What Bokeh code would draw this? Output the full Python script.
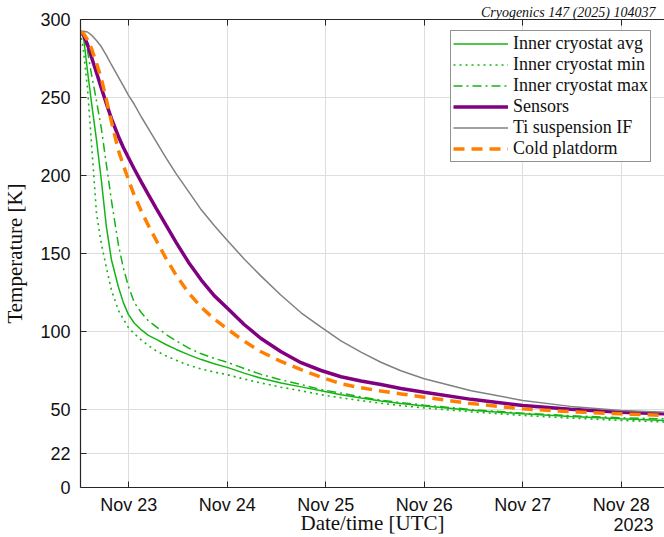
from bokeh.plotting import figure
from bokeh.models import Legend, LegendItem, LinearAxis, FixedTicker, Range1d, Grid
from bokeh.embed import file_html
from bokeh.resources import INLINE

# time as day of November 2023 (UTC)
day = [22.511, 22.541, 22.582, 22.622, 22.673, 22.723, 22.774, 22.825, 22.896, 22.946,
       22.997, 23.058, 23.129, 23.200, 23.281, 23.382, 23.483, 23.605, 23.737, 23.868,
       24.0, 24.172, 24.344, 24.547, 24.750, 24.953, 25.155, 25.358, 25.560, 25.763,
       26.0, 26.477, 27.0, 27.486, 28.0, 28.436]

inner_avg = [292, 289, 267, 247, 223, 196.8, 167, 146, 128.5, 118.5,
             111, 105.3, 101, 97.5, 95, 91.5, 88.5, 85.2, 82, 79.3,
             77, 73.3, 70, 67, 64.5, 62, 59.5, 57.4, 55.5, 53.8,
             52.2, 49.5, 47.2, 45.5, 44, 43]
inner_min = [292, 280, 256, 221, 176, 156, 141, 126.5, 113.5, 108,
             102.5, 98.5, 94.5, 91, 87.5, 84.3, 81.5, 78.5, 76, 74,
             72.3, 69.5, 67, 64.3, 62, 59.5, 57.5, 55.7, 54, 52.5,
             51, 48.5, 46.2, 44.5, 43, 42]
inner_max = [292, 290, 280, 265, 248, 230, 207, 184, 155.5, 140.8,
             129, 118.5, 112, 106.8, 103, 98, 94, 89.5, 85.7, 82.8,
             80.3, 76.3, 72.5, 69, 66, 62.8, 60.5, 58.1, 56, 54.5,
             52.8, 50, 47.6, 46, 44.7, 44]
sensors = [292, 290, 284, 276, 266, 256, 246, 236.5, 225, 218,
           211.5, 204, 195.8, 187.8, 178.8, 167.8, 157, 144.6, 133, 123,
           115, 104.5, 95.5, 87, 80, 75, 71, 68.3, 66, 63.5,
           61.1, 56.5, 52.6, 50.2, 48.3, 47.2]
ti_susp = [292.5, 292.5, 292, 290, 286.5, 282.5, 277, 271, 263, 257.5,
           251.5, 245.5, 237.5, 230, 221.5, 211, 201, 190, 178, 168,
           158.5, 146.5, 135.5, 123.2, 112, 102.8, 94, 86.8, 80.3, 74.8,
           69.7, 62, 55.8, 52, 49.4, 48.3]
cold_plat = [292, 291, 287, 281.5, 272, 262, 248.5, 234.5, 216, 206.5,
             197.5, 187, 177, 168, 158.3, 146.5, 136, 125, 115.6, 108,
             101.7, 93.8, 87, 80.8, 75.5, 70.7, 66.5, 63.9, 61.8, 60,
             57.9, 53.8, 50.4, 48.6, 47.2, 46.2]

tick_days = [23, 24, 25, 26, 27, 28]
tick_labels = ["Nov 23", "Nov 24", "Nov 25", "Nov 26", "Nov 27", "Nov 28"]
y_ticks = [0, 22, 50, 100, 150, 200, 250, 300]
year_pos = [28.125]
year_label = ["2023"]

series_names = ["Inner cryostat avg", "Inner cryostat min", "Inner cryostat max",
                "Sensors", "Ti suspension IF", "Cold platdorm"]
x_title = "Date/time [UTC]"
y_title = "Temperature [K]"
header = "Cryogenics 147 (2025) 104037"

AX = "#262626"
TXT = "#111111"
GREEN = "#14b414"

p = figure(width=664, height=537, output_backend="svg", toolbar_location=None,
           x_range=Range1d(22.511, 28.439), y_range=Range1d(0, 300),
           x_axis_type=None, y_axis_type=None,
           min_border_left=79, min_border_right=0, min_border_top=19, min_border_bottom=50)
p.outline_line_color = None
p.background_fill_color = "white"
p.border_fill_color = "white"

p.title.text = header
p.title.align = "right"
p.title.offset = 9
p.title.standoff = 0
p.title.text_font = "Liberation Serif"
p.title.text_font_style = "italic"
p.title.text_font_size = "14px"
p.title.text_color = TXT

xb = LinearAxis(ticker=FixedTicker(ticks=tick_days), axis_label=x_title)
xb.major_label_overrides = {d: l for d, l in zip(tick_days, tick_labels)}
yl = LinearAxis(ticker=FixedTicker(ticks=y_ticks), axis_label=y_title)
xt = LinearAxis(ticker=FixedTicker(ticks=tick_days))
for ax in (xb, yl, xt):
    ax.axis_line_color = AX
    ax.axis_line_width = 1.2
    ax.major_tick_line_color = AX
    ax.major_tick_in = 6
    ax.major_tick_out = 0
    ax.minor_tick_line_color = None
    ax.major_label_text_font = "Liberation Sans"
    ax.major_label_text_font_size = "18px"
    ax.major_label_text_color = TXT
    ax.axis_label_text_font = "Liberation Serif"
    ax.axis_label_text_font_size = "21px"
    ax.axis_label_text_font_style = "normal"
    ax.axis_label_text_color = TXT
xb.major_label_standoff = 7
xb.axis_label_standoff = -7
yl.major_label_standoff = 10
yl.axis_label_standoff = 10
xt.major_label_text_font_size = "1px"
xt.major_label_text_color = None
xt.major_label_standoff = 0

# second bottom axis carrying only the year label
xy = LinearAxis(ticker=FixedTicker(ticks=year_pos))
xy.major_label_overrides = {d: l for d, l in zip(year_pos, year_label)}
xy.axis_line_color = None
xy.major_tick_line_color = None
xy.minor_tick_line_color = None
xy.major_tick_in = 0
xy.major_tick_out = 0
xy.major_label_text_font = "Liberation Sans"
xy.major_label_text_font_size = "18px"
xy.major_label_text_color = TXT
xy.major_label_standoff = -20

p.add_layout(xb, "below")
p.add_layout(xy, "below")
p.add_layout(yl, "left")
p.add_layout(xt, "above")

p.add_layout(Grid(dimension=0, ticker=xb.ticker, grid_line_color="#dedede", grid_line_width=1))
p.add_layout(Grid(dimension=1, ticker=yl.ticker, grid_line_color="#dedede", grid_line_width=1))

r_avg = p.line(day, inner_avg, line_color=GREEN, line_width=1.5)
r_min = p.line(day, inner_min, line_color=GREEN, line_width=1.6, line_dash="2 4")
r_max = p.line(day, inner_max, line_color=GREEN, line_width=1.5, line_dash="9 4 2 4")
r_sen = p.line(day, sensors, line_color="#800080", line_width=3.5)
r_ti = p.line(day, ti_susp, line_color="#808080", line_width=1.5)
r_cold = p.line(day, cold_plat, line_color="#ff8000", line_width=3.5, line_dash="11 7")

legend = Legend(items=[LegendItem(label=n, renderers=[r]) for n, r in
                       zip(series_names, [r_avg, r_min, r_max, r_sen, r_ti, r_cold])],
                location=(370, 325))
legend.label_text_font = "Liberation Serif"
legend.label_text_font_size = "18px"
legend.label_text_color = TXT
legend.glyph_width = 55
legend.glyph_height = 19
legend.label_height = 19
legend.label_standoff = 5
legend.spacing = 0
legend.padding = 2
legend.margin = 0
legend.border_line_color = AX
legend.border_line_width = 1
legend.background_fill_alpha = 1
p.add_layout(legend, "center")

open("out.html", "w").write(file_html(p, INLINE))
